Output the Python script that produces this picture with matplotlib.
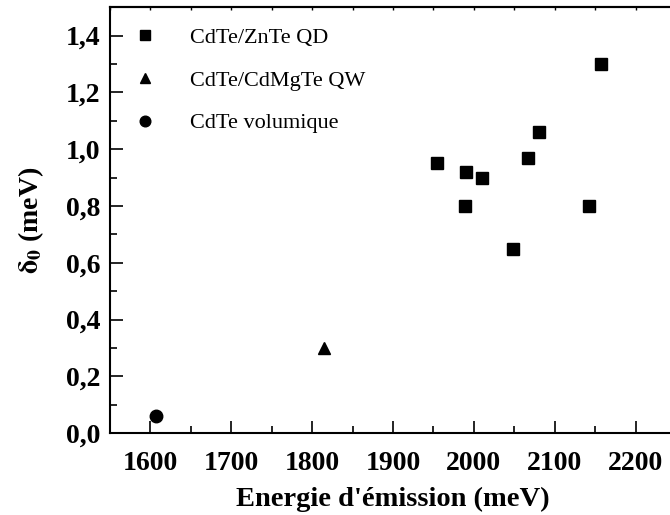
import matplotlib
matplotlib.use("Agg")
import matplotlib.pyplot as plt
from matplotlib.ticker import MultipleLocator, FuncFormatter

plt.rcParams['font.family'] = ['Liberation Serif', 'DejaVu Serif']
plt.rcParams['mathtext.fontset'] = 'stix'

# CdTe/ZnTe quantum dots
qd_energy = [1955, 1989, 1990, 2010, 2048, 2067, 2081, 2143, 2157]
qd_delta = [0.95, 0.80, 0.92, 0.90, 0.65, 0.97, 1.06, 0.80, 1.30]
# CdTe/CdMgTe quantum well
qw_energy = [1815]
qw_delta = [0.30]
# bulk CdTe
bulk_energy = [1607]
bulk_delta = [0.06]

fig = plt.figure(figsize=(6.7, 5.15), dpi=100)
ax = fig.add_axes([0.164, 0.159, 0.845, 0.827])

ax.plot(qd_energy, qd_delta, 's', color='black', ms=8.5, label='CdTe/ZnTe QD')
ax.plot(qw_energy, qw_delta, '^', color='black', ms=9, label='CdTe/CdMgTe QW')
ax.plot(bulk_energy, bulk_delta, 'o', color='black', ms=9, label='CdTe volumique')

ax.set_xlim(1550, 2250)
ax.set_ylim(0, 1.5)
ax.xaxis.set_major_locator(MultipleLocator(100))
ax.xaxis.set_minor_locator(MultipleLocator(50))
ax.yaxis.set_major_locator(MultipleLocator(0.2))
ax.yaxis.set_minor_locator(MultipleLocator(0.1))
ax.yaxis.set_major_formatter(FuncFormatter(lambda v, p: ('%.1f' % v).replace('.', ',')))

ax.tick_params(which='major', direction='in', length=9, width=1.2, labelsize=20)
ax.tick_params(which='minor', direction='in', length=5, width=1.2)
ax.tick_params(axis='x', which='major', pad=13)
ax.tick_params(axis='y', which='major', pad=7)
for lab in ax.get_xticklabels() + ax.get_yticklabels():
    lab.set_fontweight('bold')

# tiny ticks along the top edge
top = ax.secondary_xaxis('top')
top.xaxis.set_major_locator(MultipleLocator(50))
top.tick_params(direction='in', length=2, width=1, labeltop=False)

ax.spines['right'].set_visible(False)
for s in ['left', 'bottom', 'top']:
    ax.spines[s].set_linewidth(1.5)
top.spines['top'].set_linewidth(1.5)

ax.set_xlabel("Energie d'émission (meV)", fontsize=20.5, fontweight='bold', labelpad=8)
ax.set_ylabel(r'$\mathbf{\delta_0}$ (meV)', fontsize=20, fontweight='bold', labelpad=14)

ax.legend(loc='upper left', frameon=False, fontsize=16, handletextpad=1.4,
          borderaxespad=0, labelspacing=1.0, handlelength=1.2, markerscale=0.85,
          bbox_to_anchor=(0.023, 0.974))

fig.savefig('out.png', dpi=100)
